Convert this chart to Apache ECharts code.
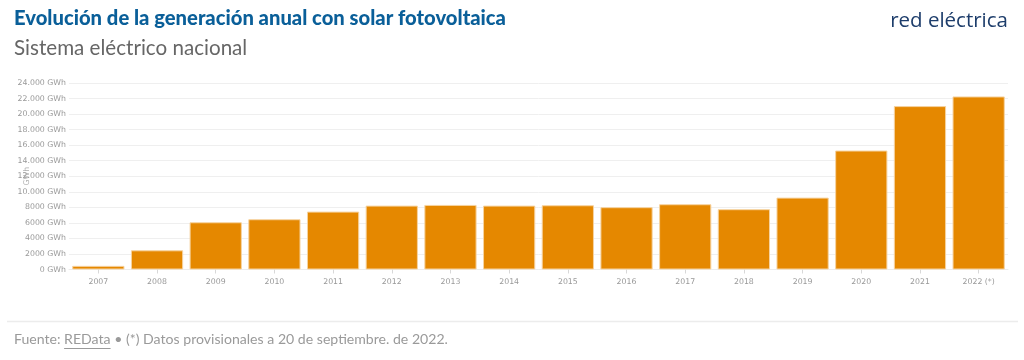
<!DOCTYPE html>
<html>
<head>
<meta charset="utf-8">
<script src="https://cdn.jsdelivr.net/npm/echarts@6/dist/echarts.min.js"></script>
<style>
html,body{margin:0;padding:0;background:#fff;}
#c{width:1024px;height:360px;}
</style>
</head>
<body>
<div id="c"></div>
<script>
const categories = ['2007','2008','2009','2010','2011','2012','2013','2014','2015','2016','2017','2018','2019','2020','2021','2022 (*)'];
const generationGWh = [470, 2470, 6080, 6470, 7450, 8220, 8310, 8220, 8270, 8020, 8400, 7760, 9250, 15310, 21030, 22270];
const yTicks = [0, 24000, 2000]; // min, max, interval

function fmt(v){
  if (v >= 10000) {
    return String(v).replace(/\B(?=(\d{3})+(?!\d))/g, '.') + ' GWh';
  }
  return v + ' GWh';
}

const FONT = 'Lato';
const AXFONT = '"DejaVu Sans"';
const footFont = '14.1px ' + FONT;
const cv = document.createElement('canvas').getContext('2d');
cv.font = footFont;
const uStart = 14 + cv.measureText('Fuente: ').width;
const uEnd = uStart + cv.measureText('REData').width;

const chart = echarts.init(document.getElementById('c'));
chart.setOption({
  backgroundColor: '#fff',
  animation: false,
  grid: {left: 69, right: 16, top: 83, bottom: 90.5, containLabel: false, outerBoundsMode: 'none'},
  xAxis: {
    type: 'category',
    data: categories,
    axisLine: {lineStyle: {color: '#ececec'}},
    axisTick: {show: true, alignWithLabel: true, length: 4, lineStyle: {color: '#d8d8d8'}},
    axisLabel: {color: '#999999', fontSize: 7.8, fontFamily: AXFONT, margin: 8}
  },
  yAxis: {
    type: 'value',
    min: yTicks[0], max: yTicks[1], interval: yTicks[2],
    name: 'GWh',
    nameLocation: 'middle',
    nameGap: 38,
    nameMoveOverlap: false,
    nameTextStyle: {color: '#b0b0b0', fontSize: 7.8, fontFamily: AXFONT},
    axisLine: {show: false},
    axisTick: {show: false},
    axisLabel: {color: '#999999', fontSize: 7.8, fontFamily: AXFONT, margin: 3, formatter: fmt},
    splitLine: {lineStyle: {color: '#efefef', width: 1}}
  },
  series: [{
    type: 'bar',
    data: generationGWh,
    barCategoryGap: '11%',
    itemStyle: {color: '#e58800', borderColor: '#f6d3a0', borderWidth: 1}
  }],
  graphic: [
    {type: 'text', left: 14, top: 8, style: {text: 'Evolución de la generación anual con solar fotovoltaica', fill: '#0a5f99', font: '900 20.2px ' + FONT}},
    {type: 'text', left: 14, top: 38, style: {text: 'Sistema eléctrico nacional', fill: '#666666', font: '20.6px ' + FONT}},
    {type: 'text', right: 16, top: 11, style: {text: 'red eléctrica', fill: '#1d3d6b', font: '20.5px "Open Sans"'}},
    {type: 'line', shape: {x1: 7, y1: 321.5, x2: 1018, y2: 321.5}, style: {stroke: '#ececec', lineWidth: 1.5}},
    {type: 'text', left: 14, top: 332, style: {text: 'Fuente: REData • (*) Datos provisionales a 20 de septiembre. de 2022.', fill: '#9a9a9a', font: footFont}},
    {type: 'line', shape: {x1: uStart, y1: 348.5, x2: uEnd, y2: 348.5}, style: {stroke: '#9a9a9a', lineWidth: 1}}
  ]
});
</script>
</body>
</html>
